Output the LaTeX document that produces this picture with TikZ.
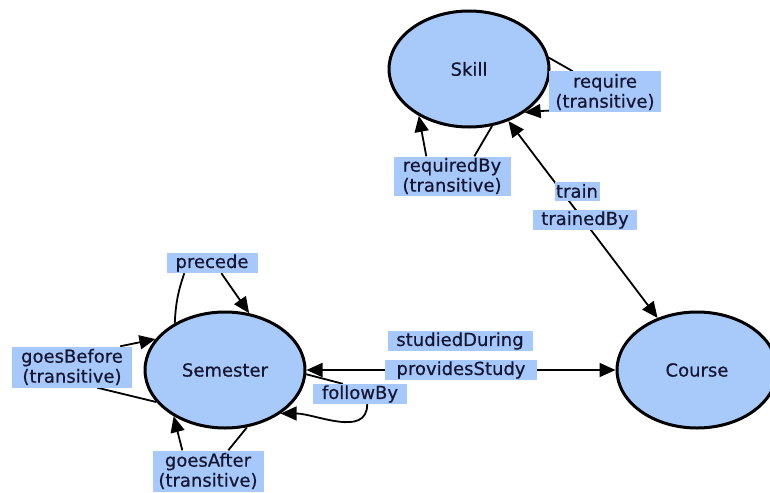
\documentclass[tikz,border=0pt]{standalone}
\usepackage{fontspec}
\setmainfont{DejaVu Sans}[FakeBold=0.5]
\usetikzlibrary{shapes.geometric,arrows.meta}
\pgfdeclarelayer{bg}
\pgfdeclarelayer{edges}
\pgfsetlayers{bg,edges,main}
\definecolor{nodefill}{RGB}{168,202,250}
\definecolor{labfill}{RGB}{166,200,250}
\definecolor{txt}{RGB}{22,22,50}
\tikzset{
  cls/.style={ellipse,draw=black,line width=3pt,fill=nodefill,minimum width=160pt,minimum height=116pt,inner sep=0pt,text=txt,font=\fontsize{18}{20}\selectfont},
  lab/.style={fill=labfill,inner sep=0pt,text=txt,align=center,font=\fontsize{18}{20}\selectfont},
  edge/.style={line width=1.8pt,draw=black},
  tip/.style={-{Triangle[length=16pt,width=14pt]}},
  tips/.style={{Triangle[length=16pt,width=14pt]}-{Triangle[length=16pt,width=14pt]}}
}
\begin{document}
\begin{tikzpicture}[x=1pt,y=-1pt]
\useasboundingbox (0,0) rectangle (770,492);
\begin{pgfonlayer}{bg}
\fill[white] (0,0) rectangle (770,492);
\end{pgfonlayer}
% classes
\node[cls] (skill) at (469,69) {Skill};
\node[cls] (semester) at (225,370) {Semester};
\node[cls] (course) at (697,370) {Course};
% labels
\node[lab,minimum width=112pt,minimum height=41pt] (require) at (605,92) {require\\(transitive)};
\node[lab,minimum width=117pt,minimum height=39pt] (requiredby) at (452,176) {requiredBy\\(transitive)};
\node[lab,minimum width=45pt,minimum height=19pt] (train) at (577,191) {train};
\node[lab,minimum width=104pt,minimum height=20pt] (trainedby) at (585,220) {trainedBy};
\node[lab,minimum width=91pt,minimum height=20pt] (precede) at (212,263) {precede};
\node[lab,minimum width=120pt,minimum height=41pt] (goesbefore) at (72,367) {goesBefore\\(transitive)};
\node[lab,minimum width=111pt,minimum height=41pt] (goesafter) at (208,471) {goesAfter\\(transitive)};
\node[lab,minimum width=94pt,minimum height=20pt] (followby) at (360,394) {followBy};
\node[lab,minimum width=145pt,minimum height=20pt] (studied) at (460,341) {studiedDuring};
\node[lab,minimum width=152pt,minimum height=20pt] (provides) at (461,370) {providesStudy};
% connectors (behind labels)
\begin{pgfonlayer}{edges}
\draw[edge,tips] (skill) -- (course);
\draw[edge,tips] (semester) -- (course);
% skill loops
\draw[edge] (skill.8) -- ([xshift=24pt]require.north west);
\draw[edge,tip] ([xshift=49pt,yshift=2pt]require.south west) to[out=180,in=5] (skill.-38);
\draw[edge,tip] ([xshift=33pt]requiredby.north west) -- (skill.223);
\draw[edge] ([xshift=81pt]requiredby.north west) -- (skill.292);
% semester loops
\draw[edge] ([xshift=18pt]precede.south west) to[bend right=8] (semester.137);
\draw[edge,tip] ([xshift=55pt]precede.south west) -- (semester.67);
\draw[edge,tip] ([xshift=-12pt]goesbefore.north east) -- (semester.156);
\draw[edge] ([xshift=-35pt]goesbefore.south east) -- (semester.205);
\draw[edge,tip] ([xshift=30pt]goesafter.north west) -- (semester.222);
\draw[edge] ([xshift=76pt]goesafter.north west) -- (semester.291);
\draw[edge] ([xshift=30pt]followby.north west) -- (semester.-3);
\draw[edge,tip] ([xshift=-40pt]followby.south east) to[out=-90,in=0] (semester.-38);
\end{pgfonlayer}
\end{tikzpicture}
\end{document}
